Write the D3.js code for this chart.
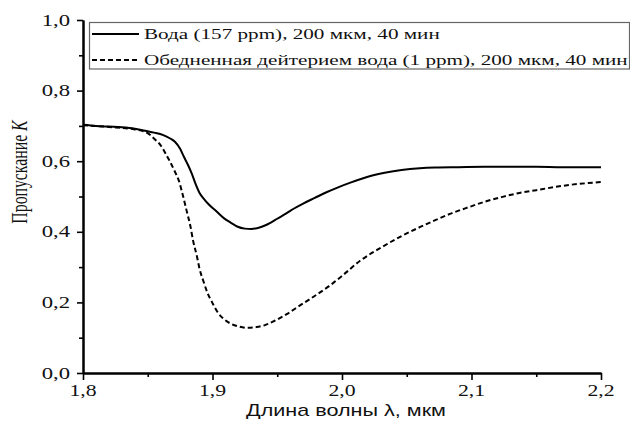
<!DOCTYPE html>
<html>
<head>
<meta charset="utf-8">
<script src="https://cdn.jsdelivr.net/npm/d3@7"></script>
<style>
  body { margin: 0; background: #fff; }
  svg { display: block; }
</style>
</head>
<body>
<svg id="chart" width="630" height="424"></svg>
<script>
// Transmission spectra, 200 µm layer, 40 min
const waterLambda = [1.800, 1.810, 1.820, 1.830, 1.840, 1.848, 1.855, 1.862, 1.867, 1.871, 1.875, 1.878, 1.881, 1.884, 1.887, 1.890, 1.893, 1.897, 1.903, 1.909, 1.914, 1.919, 1.925, 1.930, 1.935, 1.940, 1.945, 1.950, 1.957, 1.963, 1.970, 1.979, 1.988, 1.997, 2.007, 2.020, 2.033, 2.046, 2.060, 2.072, 2.090, 2.110, 2.130, 2.150, 2.170, 2.190, 2.200];
const waterK = [0.703, 0.700, 0.698, 0.696, 0.692, 0.686, 0.681, 0.674, 0.665, 0.655, 0.635, 0.612, 0.590, 0.565, 0.535, 0.510, 0.495, 0.478, 0.458, 0.438, 0.426, 0.415, 0.409, 0.408, 0.411, 0.417, 0.426, 0.437, 0.452, 0.466, 0.480, 0.496, 0.512, 0.526, 0.540, 0.556, 0.567, 0.575, 0.580, 0.582, 0.583, 0.584, 0.584, 0.584, 0.583, 0.583, 0.583];

const depletedLambda = [1.800, 1.820, 1.840, 1.848, 1.852, 1.856, 1.860, 1.864, 1.867, 1.871, 1.874, 1.877, 1.880, 1.883, 1.885, 1.888, 1.890, 1.893, 1.896, 1.900, 1.904, 1.909, 1.914, 1.920, 1.927, 1.934, 1.940, 1.948, 1.957, 1.967, 1.978, 1.990, 2.000, 2.014, 2.030, 2.046, 2.060, 2.072, 2.085, 2.098, 2.110, 2.124, 2.137, 2.150, 2.163, 2.176, 2.190, 2.200];
const depletedK = [0.702, 0.697, 0.690, 0.683, 0.674, 0.660, 0.645, 0.620, 0.600, 0.570, 0.545, 0.505, 0.460, 0.415, 0.375, 0.330, 0.295, 0.260, 0.228, 0.198, 0.172, 0.152, 0.140, 0.132, 0.128, 0.130, 0.135, 0.148, 0.166, 0.190, 0.216, 0.246, 0.275, 0.318, 0.355, 0.388, 0.413, 0.433, 0.453, 0.470, 0.485, 0.499, 0.510, 0.518, 0.526, 0.533, 0.538, 0.541];

const xTickValues = [1.8, 1.9, 2.0, 2.1, 2.2];
const xTickLabels = ["1,8", "1,9", "2,0", "2,1", "2,2"];
const xMinorValues = [1.85, 1.95, 2.05, 2.15];
const yTickValues = [0.0, 0.2, 0.4, 0.6, 0.8, 1.0];
const yTickLabels = ["0,0", "0,2", "0,4", "0,6", "0,8", "1,0"];
const yMinorValues = [0.1, 0.3, 0.5, 0.7, 0.9];

const legendLabels = [
  "Вода (157 ppm), 200 мкм, 40 мин",
  "Обедненная дейтерием вода (1 ppm), 200 мкм, 40 мин"
];
const xTitle = "Длина волны λ, мкм";
const yTitle = "Пропускание ";
const yTitleSymbol = "K";

// ---- layout ----
const plot = { left: 83, right: 601, top: 20, bottom: 373 };
const serif = "'Liberation Serif', 'Times New Roman', serif";
const sans = "'Liberation Sans', Arial, sans-serif";

const svg = d3.select("#chart");

const x = d3.scaleLinear().domain([1.8, 2.2]).range([plot.left, plot.right]);
const y = d3.scaleLinear().domain([0, 1]).range([plot.bottom, plot.top]);

// ---- axes ----
function styleAxis(g) {
  g.select(".domain").attr("stroke", "#000").attr("stroke-width", 2);
  g.selectAll(".tick line").attr("stroke", "#000").attr("stroke-width", 1.6);
  g.selectAll(".tick text").remove();
}

svg.append("g")
  .attr("transform", `translate(0,${plot.bottom})`)
  .call(d3.axisBottom(x).tickValues(xMinorValues).tickSize(4).tickSizeOuter(0).tickFormat(""))
  .call(styleAxis);
svg.append("g")
  .attr("transform", `translate(0,${plot.bottom})`)
  .call(d3.axisBottom(x).tickValues(xTickValues).tickSize(7).tickSizeOuter(0).tickFormat(""))
  .call(styleAxis);

svg.append("g")
  .attr("transform", `translate(${plot.left},0)`)
  .call(d3.axisLeft(y).tickValues(yMinorValues).tickSize(4).tickSizeOuter(0).tickFormat(""))
  .call(styleAxis);
svg.append("g")
  .attr("transform", `translate(${plot.left},0)`)
  .call(d3.axisLeft(y).tickValues(yTickValues).tickSize(6).tickSizeOuter(0).tickFormat(""))
  .call(styleAxis);

// tick labels (lettering is drawn slightly widened)
svg.append("g").selectAll("text")
  .data(xTickValues)
  .join("text")
  .attr("transform", d => `translate(${x(d)},396) scale(1.36,1)`)
  .attr("text-anchor", "middle")
  .attr("font-family", serif)
  .attr("font-size", 16)
  .attr("fill", "#111")
  .text((d, i) => xTickLabels[i]);

svg.append("g").selectAll("text")
  .data(yTickValues)
  .join("text")
  .attr("transform", d => `translate(70,${y(d) + 5.5}) scale(1.42,1)`)
  .attr("text-anchor", "end")
  .attr("font-family", serif)
  .attr("font-size", 16)
  .attr("fill", "#111")
  .text((d, i) => yTickLabels[i]);

// axis titles
svg.append("text")
  .attr("transform", `translate(346,416) scale(1.27,1)`)
  .attr("text-anchor", "middle")
  .attr("font-family", sans)
  .attr("font-size", 17)
  .attr("fill", "#111")
  .text(xTitle);

const yt = svg.append("text")
  .attr("transform", `translate(26.5,172) scale(1.45,1) rotate(-90)`)
  .attr("text-anchor", "middle")
  .attr("font-family", serif)
  .attr("font-size", 15.8)
  .attr("fill", "#111");
yt.append("tspan").text(yTitle);
yt.append("tspan").attr("font-style", "italic").text(yTitleSymbol);

// ---- curves ----
const line = d3.line()
  .x(d => x(d[0]))
  .y(d => y(d[1]))
  .curve(d3.curveMonotoneX);

const series = [
  { lambda: waterLambda, k: waterK, dash: null },
  { lambda: depletedLambda, k: depletedK, dash: "5,3" }
];

svg.append("g").selectAll("path")
  .data(series)
  .join("path")
  .attr("d", s => line(s.lambda.map((l, i) => [l, s.k[i]])))
  .attr("fill", "none")
  .attr("stroke", "#000")
  .attr("stroke-width", 2)
  .attr("stroke-dasharray", s => s.dash);

// ---- legend ----
const legend = svg.append("g");
legend.append("rect")
  .attr("x", 89.5).attr("y", 22.5)
  .attr("width", 540).attr("height", 46.5)
  .attr("fill", "#fff")
  .attr("stroke", "#666")
  .attr("stroke-width", 1.2);

const rows = legend.selectAll("g.row")
  .data(series)
  .join("g")
  .attr("class", "row")
  .attr("transform", (d, i) => `translate(0,${34 + i * 26})`);

rows.append("line")
  .attr("x1", 92).attr("x2", 139)
  .attr("stroke", "#000")
  .attr("stroke-width", 1.8)
  .attr("stroke-dasharray", d => d.dash);

rows.append("text")
  .attr("transform", `translate(144,5) scale(1.365,1)`)
  .attr("font-family", serif)
  .attr("font-size", 15.5)
  .attr("fill", "#111")
  .text((d, i) => legendLabels[i]);
</script>
</body>
</html>
